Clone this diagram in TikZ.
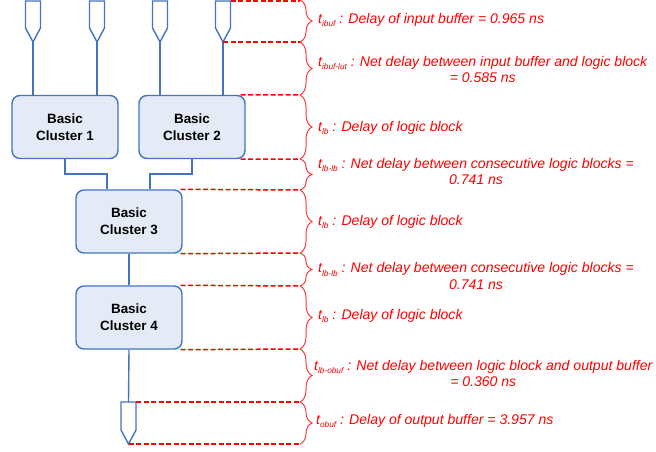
\documentclass[tikz,border=0pt]{standalone}
\usepackage{fontspec}
\setmainfont{Liberation Sans}
\usetikzlibrary{decorations.pathreplacing,calc}
\definecolor{bblue}{HTML}{4472C4}
\definecolor{bfill}{HTML}{E5EBF6}
\definecolor{rred}{HTML}{FF0000}
\definecolor{bred}{HTML}{FF3A3A}
\newcommand{\sbx}[1]{\raisebox{-0.45ex}{\fontsize{8.3}{8.3}\selectfont #1}}
\tikzset{
  wire/.style={draw=bblue, line width=1.4bp},
  cluster/.style={draw=bblue, fill=bfill, line width=1.4bp, rounded corners=8bp,
    minimum width=106bp, minimum height=63bp, inner sep=0pt, align=center,
    font=\fontsize{13.5}{17}\selectfont\bfseries},
  bufshape/.style={draw=bblue, line width=1.4bp, line join=miter},
  rdash/.style={draw=rred, line width=1.5bp, dash pattern=on 5bp off 2.5bp},
  rbrace/.style={draw=bred, line width=1bp, decorate, decoration={brace, amplitude=12bp}},
  lbl/.style={anchor=west, text=rred, align=center, inner sep=0pt,
    font=\fontsize{14.1}{16.7}\selectfont\itshape}
}
\begin{document}
\begin{tikzpicture}[x=1bp, y=-1bp]
\useasboundingbox (0,0) rectangle (656,452);
% input buffers
\foreach \i/\cx in {1/33, 2/97, 3/160, 4/223} {
  \draw[bufshape] (\cx-7.5,1) -- (\cx+7.5,1) -- (\cx+7.5,28) -- (\cx,42) -- (\cx-7.5,28) -- cycle;
  \coordinate (b\i tip) at (\cx,42);
  \coordinate (b\i tr) at (\cx+7.5,1);
}
% clusters
\node[cluster] (c1) at (65,127) {Basic\\Cluster 1};
\node[cluster] (c2) at (192,127) {Basic\\Cluster 2};
\node[cluster] (c3) at (129,221.5) {Basic\\Cluster 3};
\node[cluster] (c4) at (129,317.5) {Basic\\Cluster 4};
% output buffer
\draw[bufshape] (121,402) -- (136,402) -- (136,430) -- (128.5,444) -- (121,430) -- cycle;
\coordinate (otop) at (128.5,402);
\coordinate (otr) at (136,402);
\coordinate (otip) at (128.5,444);
% wires
\draw[wire] (b1tip) -- (b1tip |- c1.north);
\draw[wire] (b2tip) -- (b2tip |- c1.north);
\draw[wire] (b3tip) -- (b3tip |- c2.north);
\draw[wire] (b4tip) -- (b4tip |- c2.north);
\coordinate (j1) at (107,174);
\coordinate (j2) at (150,174);
\draw[wire] (c1.south) -- (c1.south |- j1) -- (j1) -- (j1 |- c3.north);
\draw[wire] (c2.south) -- (c2.south |- j2) -- (j2) -- (j2 |- c3.north);
\draw[wire] (c3.south) -- (c4.north);
\draw[wire] (c4.south) -- (otop);
% brace coordinates
\foreach \n/\yy in {0/1, 1/42, 2/95, 3/159, 4/190, 5/253, 6/286, 7/349, 8/402, 9/444} {
  \coordinate (L\n) at (300,\yy);
}
% dashed levels
\draw[rdash] (b4tr) -- (L0);
\draw[rdash] (b4tip) -- (L1);
\draw[rdash] ($(c2.north east)+(-5,0)$) -- (L2);
\draw[rdash] ($(c2.south east)+(-5,0)$) -- (L3);
\draw[rdash] ($(c3.north east)+(-2,0)$) -- (L4);
\draw[rdash] ($(c3.south east)+(-2,0)$) -- (L5);
\draw[rdash] ($(c4.north east)+(-2,0)$) -- (L6);
\draw[rdash] ($(c4.south east)+(-2,0)$) -- (L7);
\draw[rdash] (otr) -- (L8);
\draw[rdash] (otip) -- (L9);
% braces
\draw[rbrace] (300,0) -- (L1);
\draw[rbrace] (L1) -- (L2);
\draw[rbrace] (L2) -- (L3);
\draw[rbrace] (L3) -- (L4);
\draw[rbrace] (L4) -- (L5);
\draw[rbrace] (L5) -- (L6);
\draw[rbrace] (L6) -- (L7);
\draw[rbrace] (L7) -- (L8);
\draw[rbrace] (L8) -- (L9);
% labels
\node[lbl] (t1) at (318,20) {t\sbx{ibuf} : Delay of input buffer = 0.965 ns};
\node[lbl] (t2) at (318,69.5) {t\sbx{ibuf-lut} : Net delay between input buffer and logic block\\= 0.585 ns};
\node[lbl] (t3) at (318,128) {t\sbx{lb} : Delay of logic block};
\node[lbl] (t4) at (318,171.5) {t\sbx{lb-lb} : Net delay between consecutive logic blocks =\\0.741 ns};
\node[lbl] (t5) at (318,222) {t\sbx{lb} : Delay of logic block};
\node[lbl] (t6) at (318,276) {t\sbx{lb-lb} : Net delay between consecutive logic blocks =\\0.741 ns};
\node[lbl] (t7) at (318,316) {t\sbx{lb} : Delay of logic block};
\node[lbl] (t8) at (314,373.5) {t\sbx{lb-obuf} : Net delay between logic block and output buffer\\= 0.360 ns};
\node[lbl] (t9) at (316,421) {t\sbx{obuf} : Delay of output buffer = 3.957 ns};
\end{tikzpicture}
\end{document}
